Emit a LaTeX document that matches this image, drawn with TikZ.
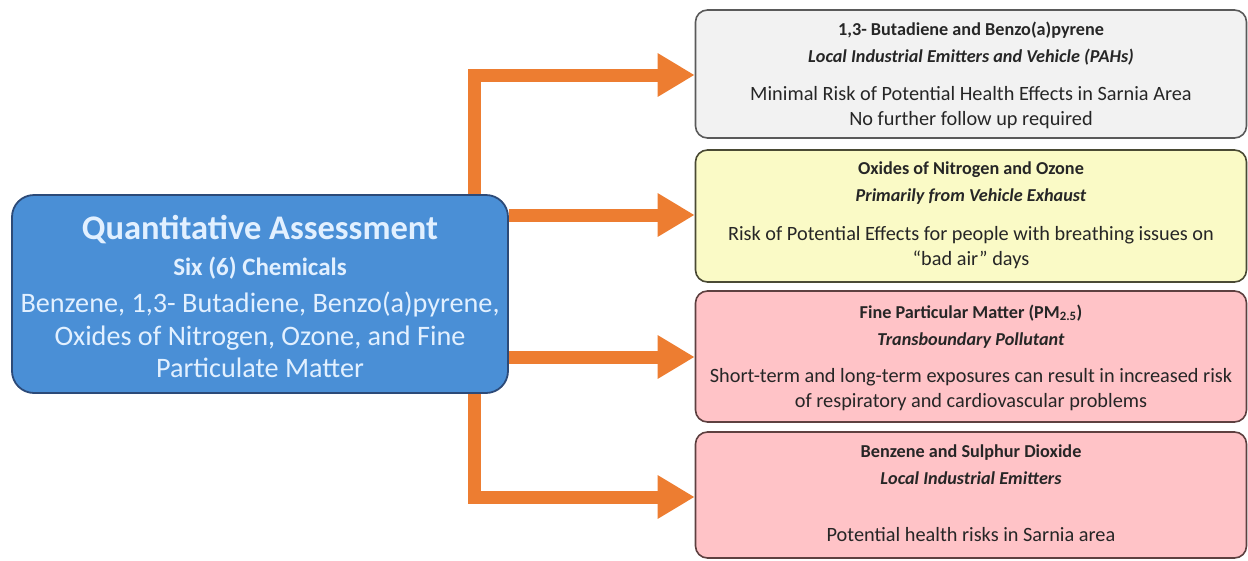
\documentclass[tikz,border=0pt]{standalone}
\usepackage{fontspec}
\setmainfont{Carlito}
\usetikzlibrary{arrows.meta}
\definecolor{flow}{HTML}{ED7D31}
\definecolor{qafill}{HTML}{4A8FD6}
\definecolor{qaline}{HTML}{2C4A78}
\definecolor{qatext}{HTML}{E2F0FF}
\definecolor{greyfill}{HTML}{F2F2F2}
\definecolor{greyline}{HTML}{5A5A5A}
\definecolor{yellowfill}{HTML}{FAFAC6}
\definecolor{yellowline}{HTML}{4A4A34}
\definecolor{pinkfill}{HTML}{FFC3C7}
\definecolor{pinkline}{HTML}{5E4040}
\definecolor{ink}{HTML}{262626}
\begin{document}
\begin{tikzpicture}[x=1pt,y=-1pt,
  flowarrow/.style={draw=flow, line width=13pt, line join=miter,
    -{Triangle[length=37pt,width=41pt]}},
  qabox/.style={draw=qaline, fill=qafill, line width=1.8pt, rounded corners=22pt,
    minimum width=496pt, minimum height=198pt, inner sep=0pt},
  panel/.style={line width=1.6pt, rounded corners=12pt,
    minimum width=551pt, inner sep=0pt},
  qatxt/.style={text=qatext, align=center, inner sep=0pt},
  paneltitle/.style={text=ink, align=center, inner sep=0pt,
    font=\bfseries\fontsize{18.2}{27}\selectfont},
  panelbody/.style={text=ink, align=center, inner sep=0pt,
    font=\fontsize{20.3}{25}\selectfont}]
\useasboundingbox (0,0) rectangle (1248,560);

% source box
\node[qabox] (qa) at (260,294) {};
\node[qatxt, font=\bfseries\fontsize{34.5}{40}\selectfont] (qa-title) at (260,230) {Quantitative Assessment};
\node[qatxt, font=\bfseries\fontsize{25}{30}\selectfont] (qa-sub) at (260,268) {Six (6) Chemicals};
\node[qatxt, font=\fontsize{28.2}{32.5}\selectfont] (qa-list) at (260,335)
  {Benzene, 1,3- Butadiene, Benzo(a)pyrene,\\Oxides of Nitrogen, Ozone, and Fine\\Particulate Matter};

% outcome panels
\node[panel, draw=greyline, fill=greyfill, minimum height=128pt] (b1) at (971,74) {};
\node[panel, draw=yellowline, fill=yellowfill, minimum height=132pt] (b2) at (971,216) {};
\node[panel, draw=pinkline, fill=pinkfill, minimum height=131pt] (b3) at (971,356.5) {};
\node[panel, draw=pinkline, fill=pinkfill, minimum height=126pt] (b4) at (971,495) {};

\node[paneltitle] (b1-title) at (971,43.5) {1,3- Butadiene and Benzo(a)pyrene\\\textit{Local Industrial Emitters and Vehicle (PAHs)}};
\node[panelbody] (b1-body) at (971,108) {Minimal Risk of Potential Health Effects in Sarnia Area\\No further follow up required};

\node[paneltitle] (b2-title) at (971,183.5) {Oxides of Nitrogen and Ozone\\\textit{Primarily from Vehicle Exhaust}};
\node[panelbody] (b2-body) at (971,247.5) {Risk of Potential Effects for people with breathing issues on\\“bad air” days};

\node[paneltitle] (b3-title) at (971,326.5) {Fine Particular Matter (PM\textsubscript{2.5})\\\textit{Transboundary Pollutant}};
\node[panelbody] (b3-body) at (971,389.5) {Short-term and long-term exposures can result in increased risk\\of respiratory and cardiovascular problems};

\node[paneltitle] (b4-title) at (971,464.5) {Benzene and Sulphur Dioxide\\\textit{Local Industrial Emitters}};
\node[panelbody] (b4-body) at (971,535) {Potential health risks in Sarnia area};

% connectors
\coordinate (j1) at (474,75);
\coordinate (j4) at (474,497);
\coordinate (r2) at (0,215);
\coordinate (r3) at (0,357);
\draw[flowarrow] (qa.north -| j1) -- (j1) -- (b1.west |- j1);
\draw[flowarrow] (qa.east |- r2) -- (b2.west |- r2);
\draw[flowarrow] (qa.east |- r3) -- (b3.west |- r3);
\draw[flowarrow] (qa.south -| j4) -- (j4) -- (b4.west |- j4);
\end{tikzpicture}
\end{document}
